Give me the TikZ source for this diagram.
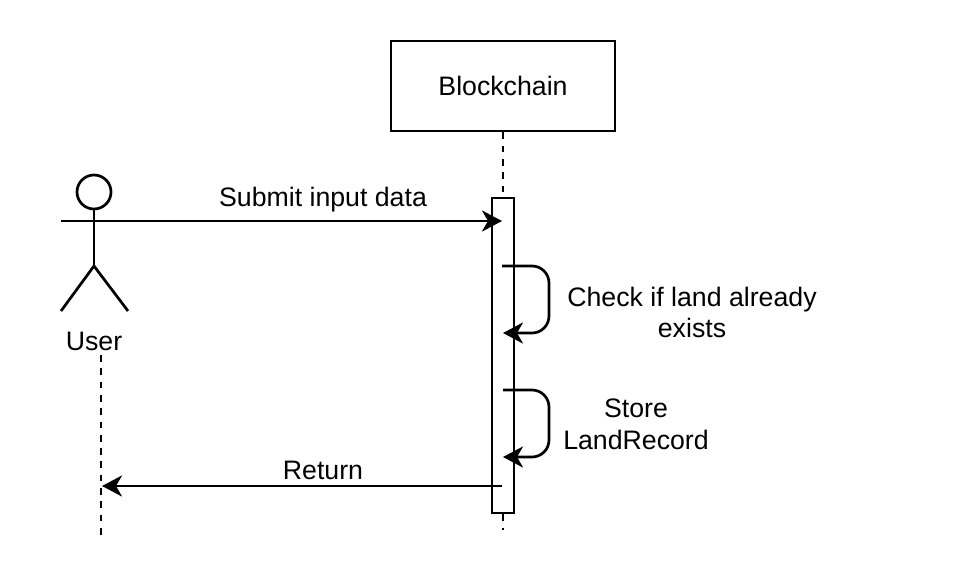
\documentclass[tikz,border=0pt]{standalone}
\usepackage{fontspec}
\setmainfont{Liberation Sans}
\usetikzlibrary{arrows.meta}
\tikzset{
  ln/.style={line width=2.7pt,draw=black},
  msg/.style={line width=2.7pt,draw=black,-{Stealth[length=20pt,width=21pt,inset=6pt]}},
  selfmsg/.style={msg,rounded corners=17pt},
  life/.style={line width=2.7pt,draw=black,dash pattern=on 6.7pt off 6.6pt},
  lbl/.style={font=\fontsize{26.7}{31}\selectfont,align=center,inner sep=0pt,text=black},
}
\begin{document}
\begin{tikzpicture}[x=1pt,y=-1pt]
\useasboundingbox (0,0) rectangle (955,586);
\fill[white] (0,0) rectangle (955,586);
% blockchain lifeline
\node[ln,draw,minimum width=224pt,minimum height=90pt,inner sep=0pt,lbl,anchor=center] (bc) at (503,86) {Blockchain};
\node[ln,draw,fill=white,minimum width=22pt,minimum height=315pt,inner sep=0pt] (act) at (503,355.5) {};
\coordinate (bcend) at (503,530);
\draw[life] (bc.south) -- (act.north);
\draw[life] (act.south) -- (bcend);
% actor
\node[ln,draw,circle,minimum size=34pt,inner sep=0pt] (head) at (94,192) {};
\coordinate (neck) at (94,209);
\coordinate (hip) at (94,266);
\coordinate (armL) at (61,221);
\coordinate (armR) at (128,221);
\coordinate (legL) at (61,311);
\coordinate (legR) at (128,311);
\draw[ln] (head.south) -- (hip);
\draw[ln] (armL) -- (armR);
\draw[ln] (legL) -- (hip) -- (legR);
\node[lbl] (user) at (94,341.5) {User};
\coordinate (uTop) at (101,355);
\coordinate (uEnd) at (101,536);
\draw[life] (uTop) -- (uEnd);
% messages
\coordinate (subEnd) at (502,221);
\draw[msg] (armR) -- (subEnd);
\node[lbl] (sub) at (323,200) {Submit input data};
\coordinate (c1s) at (502,266);
\coordinate (c1e) at (503,333);
\draw[selfmsg] (c1s) -- (549,266) -- (549,333) -- (c1e);
\node[lbl] (chk) at (692,312) {Check if land already\\exists};
\coordinate (c2s) at (503,390);
\coordinate (c2e) at (503,457);
\draw[selfmsg] (c2s) -- (549,390) -- (549,457) -- (c2e);
\node[lbl,font=\fontsize{26.7}{32}\selectfont] (sto) at (636,424.5) {Store\\LandRecord};
\coordinate (rs) at (502,486);
\coordinate (re) at (102,486);
\draw[msg] (rs) -- (re);
\node[lbl] (ret) at (323,470) {Return};
\end{tikzpicture}
\end{document}
